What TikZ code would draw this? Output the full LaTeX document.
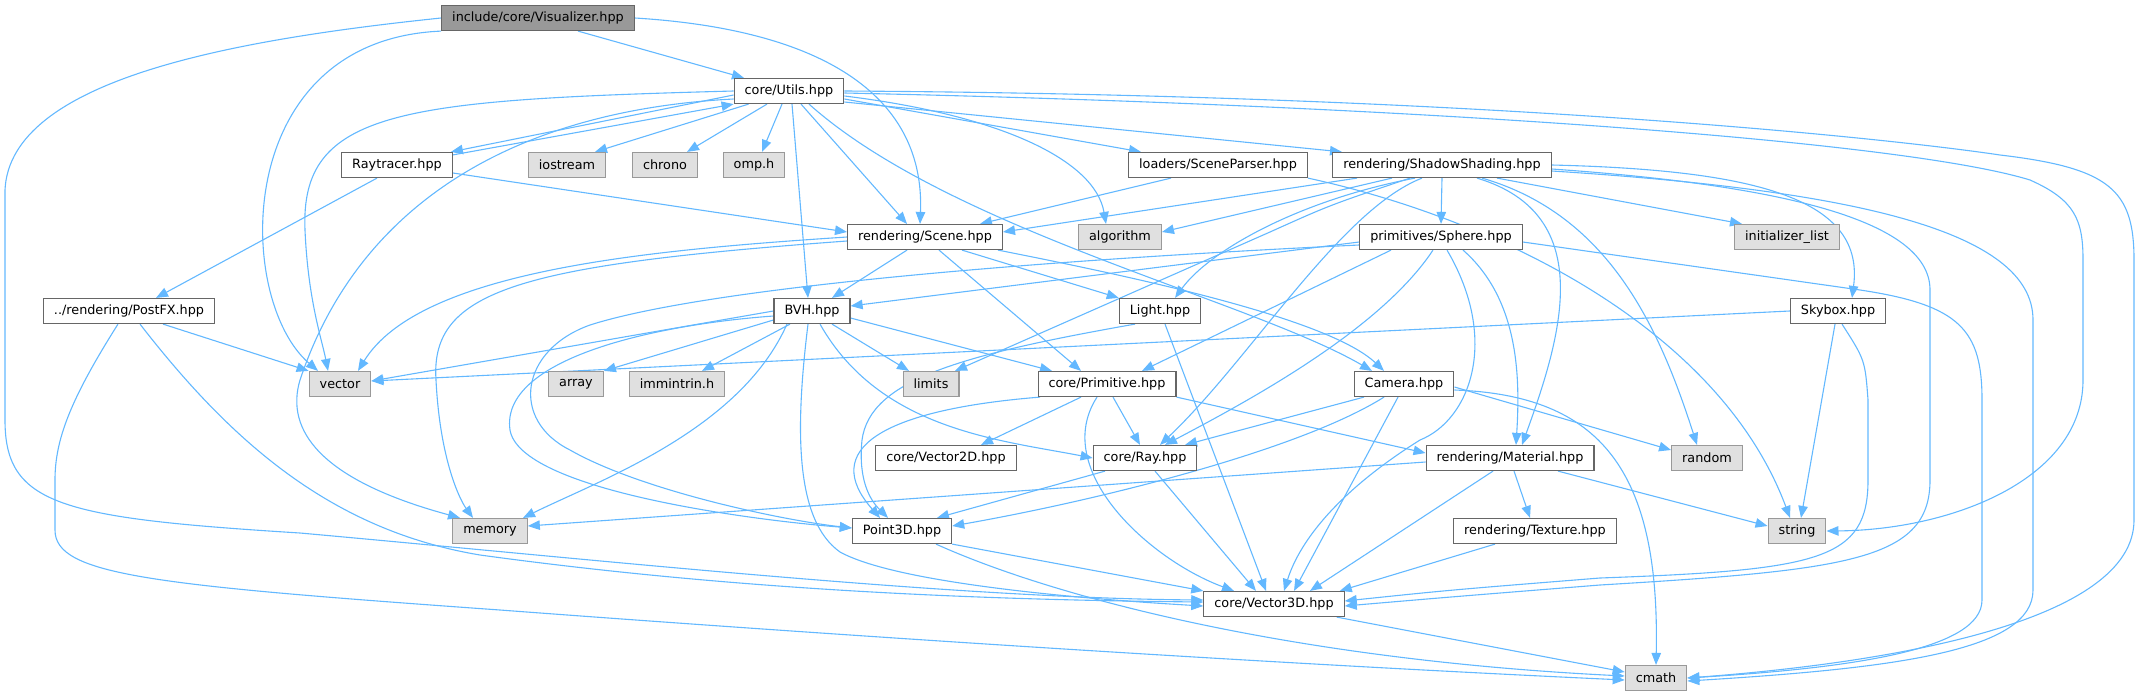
\documentclass[tikz,border=0pt]{standalone}
\usepackage{fontspec}
\setmainfont{DejaVu Sans}
\usepackage{tikz}
\usetikzlibrary{arrows.meta, backgrounds}
\definecolor{edgeblue}{HTML}{63B8FF}
\definecolor{boxline}{HTML}{666666}
\definecolor{sysfill}{HTML}{E0E0E0}
\definecolor{sysline}{HTML}{999999}
\definecolor{topfill}{HTML}{999999}

\begin{document}
\begin{tikzpicture}[x=1pt, y=-1pt,
  hdr/.style={draw=boxline, fill=white, line width=1.2pt, minimum height=25pt, inner xsep=10.5pt, inner ysep=0pt, font=\fontsize{12.8}{15}\selectfont},
  sys/.style={hdr, draw=sysline, fill=sysfill},
  dep/.style={draw=edgeblue, line width=1.1pt, -{Triangle[length=12pt, width=9.5pt]}}]
  \useasboundingbox (0,0) rectangle (2140,696);
  \node (vis) [hdr, fill=topfill] at (538,18) {include/core/Visualizer.hpp};
  \node (utils) [hdr] at (789,91) {core/Utils.hpp};
  \node (rt) [hdr] at (397,165) {Raytracer.hpp};
  \node (iostream) [sys] at (567,165) {iostream};
  \node (chrono) [sys] at (665,165) {chrono};
  \node (omp) [sys] at (754,165) {omp.h};
  \node (parser) [hdr] at (1218,165) {loaders/SceneParser.hpp};
  \node (shadow) [hdr] at (1442,165) {rendering/ShadowShading.hpp};
  \node (scene) [hdr] at (925,237) {rendering/Scene.hpp};
  \node (algorithm) [sys] at (1120,237) {algorithm};
  \node (sphere) [hdr] at (1441,237) {primitives/Sphere.hpp};
  \node (initlist) [sys] at (1787,237) {initializer\_list};
  \node (postfx) [hdr] at (129,311) {../rendering/PostFX.hpp};
  \node (bvh) [hdr] at (812,311) {BVH.hpp};
  \node (light) [hdr] at (1160,311) {Light.hpp};
  \node (skybox) [hdr] at (1838,311) {Skybox.hpp};
  \node (vector) [sys] at (340,384) {vector};
  \node (array) [sys] at (576,384) {array};
  \node (immintrin) [sys] at (677,384) {immintrin.h};
  \node (limits) [sys] at (931,384) {limits};
  \node (prim) [hdr] at (1107,384) {core/Primitive.hpp};
  \node (camera) [hdr] at (1404,384) {Camera.hpp};
  \node (vec2) [hdr] at (946,458) {core/Vector2D.hpp};
  \node (ray) [hdr] at (1145,458) {core/Ray.hpp};
  \node (material) [hdr] at (1510,458) {rendering/Material.hpp};
  \node (random) [sys] at (1707,458) {random};
  \node (memory) [sys] at (490,531) {memory};
  \node (point) [hdr] at (902,531) {Point3D.hpp};
  \node (texture) [hdr] at (1535,531) {rendering/Texture.hpp};
  \node (string) [sys] at (1797,531) {string};
  \node (vec3) [hdr] at (1274,604) {core/Vector3D.hpp};
  \node (cmath) [sys] at (1656,678) {cmath};
  \begin{scope}[on background layer]
    \draw [dep] ([xshift=40]vis.south) -- ([xshift=-45]utils.north);
    \draw [dep] (vis.east) .. controls (830,30) and (925,100) .. ([xshift=-5]scene.north);
    \draw [dep] (vis.south west) .. controls (230,40) and (235,300) .. ([xshift=-22]vector.north);
    \draw [dep] (vis.west) .. controls (230,40) and (10,80) .. (5,190) -- (5,420) .. controls (5,505) and (60,518) .. (300,533) .. controls (600,560) and (950,598) .. ([yshift=4]vec3.west);
    \draw [dep] ([yshift=-4]utils.west) -- ([xshift=-2]rt.north east);
    \draw [dep] ([yshift=-3]rt.north east) -- (utils.south west);
    \draw [dep] ([xshift=15]utils.south west) -- ([xshift=28]iostream.north);
    \draw [dep] ([xshift=-22]utils.south) -- ([xshift=22]chrono.north);
    \draw [dep] ([xshift=-7]utils.south) -- ([xshift=8]omp.north);
    \draw [dep] ([xshift=3]utils.south) -- ([xshift=-4]bvh.north);
    \draw [dep] ([xshift=12]utils.south) -- ([xshift=-18]scene.north);
    \draw [dep] ([xshift=20]utils.south) .. controls (950,230) and (1250,300) .. ([xshift=-32]camera.north);
    \draw [dep] ([yshift=-5]utils.east) .. controls (1000,115) and (1095,160) .. ([xshift=-14]algorithm.north);
    \draw [dep] ([yshift=-8]utils.east) -- ([xshift=-77]parser.north);
    \draw [dep] ([yshift=-11]utils.east) -- ([xshift=-100]shadow.north);
    \draw [dep] ([yshift=-2]utils.east) .. controls (1400,105) and (1900,140) .. (2030,180) .. controls (2075,200) and (2083,220) .. (2083,260) -- (2083,380) .. controls (2083,480) and (1950,530) .. (string.east);
    \draw [dep] (utils.east) .. controls (1500,95) and (1900,140) .. (2000,155) .. controls (2110,168) and (2134,190) .. (2134,260) -- (2134,520) .. controls (2134,620) and (1900,662) .. (cmath.east);
    \draw [dep] (utils.west) .. controls (400,100) and (300,110) .. (305,230) .. controls (308,300) and (322,340) .. ([xshift=-12]vector.north);
    \draw [dep] ([yshift=-8]utils.west) .. controls (520,110) and (360,200) .. (300,380) .. controls (285,430) and (320,480) .. ([xshift=-30]memory.north);
    \draw [dep] ([xshift=-20]rt.south) -- ([xshift=27]postfx.north);
    \draw [dep] ([yshift=-8]rt.east) -- ([yshift=5]scene.west);
    \draw [dep] ([xshift=-47]parser.south) -- ([xshift=55]scene.north);
    \draw [dep] (parser.south east) .. controls (1500,220) and (1720,330) .. ([xshift=-7]string.north);
    \draw [dep] ([xshift=-85]shadow.south) -- ([yshift=5]scene.east);
    \draw [dep] ([xshift=-50]shadow.south) -- ([yshift=5]algorithm.east);
    \draw [dep] (shadow.south) -- (sphere.north);
    \draw [dep] ([xshift=55]shadow.south) -- ([xshift=8]initlist.north west);
    \draw [dep] (shadow.east) .. controls (1760,170) and (1865,200) .. ([xshift=14]skybox.north);
    \draw [dep] ([yshift=-4]shadow.east) .. controls (1780,185) and (1930,220) .. (1930,290) -- (1930,480) .. controls (1930,560) and (1850,570) .. (1600,585) .. controls (1450,597) .. ([yshift=-2]vec3.east);
    \draw [dep] ([yshift=-6]shadow.east) .. controls (1850,190) and (2033,230) .. (2033,320) -- (2033,590) .. controls (2033,650) and (1900,668) .. ([yshift=-3]cmath.east);
    \draw [dep] ([xshift=-27]shadow.south) .. controls (1300,200) and (1210,250) .. ([xshift=15]light.north);
    \draw [dep] ([xshift=-32]shadow.south) .. controls (1330,205) .. (1270,232) -- ([xshift=24]limits.north);
    \draw [dep] ([xshift=-20]shadow.south) .. controls (1340,210) and (1250,360) .. ([xshift=15]ray.north);
    \draw [dep] ([xshift=35]shadow.south) .. controls (1600,215) and (1560,340) .. ([xshift=12]material.north);
    \draw [dep] ([xshift=40]shadow.south) .. controls (1610,215) and (1660,330) .. ([xshift=-10]random.north);
    \draw [dep] ([yshift=-5]sphere.west) -- ([yshift=5]bvh.east);
    \draw [dep] ([yshift=-8]sphere.west) .. controls (1000,262) and (700,290) .. (590,325) .. controls (520,350) and (510,420) .. (570,450) .. controls (640,490) and (780,520) .. ([yshift=3]point.west);
    \draw [dep] ([xshift=-50]sphere.south) -- ([xshift=35]prim.north);
    \draw [dep] ([xshift=-8]sphere.south) .. controls (1380,330) and (1250,400) .. ([xshift=20]ray.north);
    \draw [dep] ([xshift=6]sphere.south) .. controls (1500,340) and (1470,420) .. (1420,440) .. controls (1340,490) and (1300,540) .. ([xshift=10]vec3.north);
    \draw [dep] ([xshift=22]sphere.south) .. controls (1520,300) and (1520,380) .. ([xshift=6]material.north);
    \draw [dep] ([yshift=-5]sphere.east) -- (1860,290) .. controls (1960,305) and (1982,330) .. (1982,400) -- (1982,600) .. controls (1982,650) and (1850,668) .. (cmath.east);
    \draw [dep] ([xshift=-18]scene.south) -- ([xshift=20]bvh.north);
    \draw [dep] ([xshift=14]scene.south) -- ([xshift=-26]prim.north);
    \draw [dep] ([xshift=37]scene.south) -- (light.north west);
    \draw [dep] ([xshift=73]scene.south) .. controls (1150,280) and (1330,320) .. ([xshift=-20]camera.north);
    \draw [dep] (scene.west) .. controls (650,250) and (420,270) .. ([xshift=18]vector.north);
    \draw [dep] ([yshift=-4]scene.west) .. controls (520,265) and (430,290) .. (436,380) .. controls (440,460) and (460,500) .. ([xshift=-17]memory.north);
    \draw [dep] (bvh.west) -- ([yshift=3]vector.east);
    \draw [dep] ([yshift=-9]bvh.west) -- (array.north east);
    \draw [dep] ([xshift=-22]bvh.south) -- ([xshift=25]immintrin.north);
    \draw [dep] ([xshift=20]bvh.south) -- ([xshift=-22]limits.north);
    \draw [dep] ([yshift=-7]bvh.east) -- ([xshift=-55]prim.north);
    \draw [dep] ([xshift=8]bvh.south) .. controls (880,430) and (1000,440) .. (ray.west);
    \draw [dep] ([xshift=-25]bvh.south) .. controls (740,430) and (600,480) .. ([xshift=33]memory.north);
    \draw [dep] ([yshift=-5]bvh.west) .. controls (650,325) and (500,360) .. (510,430) .. controls (520,490) and (750,520) .. ([yshift=3]point.west);
    \draw [dep] ([xshift=-4]bvh.south) .. controls (795,430) and (795,520) .. (840,552) .. controls (900,585) and (1100,600) .. ([yshift=-2]vec3.west);
    \draw [dep] ([xshift=-25]light.south) .. controls (960,355) and (870,380) .. (862,440) .. controls (858,480) and (870,500) .. ([xshift=-14]point.north);
    \draw [dep] ([xshift=5]light.south) -- ([xshift=-8]vec3.north);
    \draw [dep] ([xshift=-26]prim.south) -- ([xshift=35]vec2.north);
    \draw [dep] ([xshift=6]prim.south) -- ([xshift=-5]ray.north);
    \draw [dep] ([xshift=-67]prim.south) .. controls (880,410) and (820,450) .. ([xshift=-22]point.north);
    \draw [dep] ([xshift=-10]prim.south) .. controls (1050,470) and (1150,560) .. ([xshift=-40]vec3.north);
    \draw [dep] (prim.south east) -- ([yshift=5]material.west);
    \draw [dep] ([xshift=-40]camera.south) -- ([xshift=40]ray.north);
    \draw [dep] ([xshift=-20]camera.south) .. controls (1300,450) and (1100,500) .. ([yshift=5]point.east);
    \draw [dep] ([xshift=-6]camera.south) -- ([xshift=20]vec3.north);
    \draw [dep] ([yshift=-3]camera.east) -- ([yshift=8]random.west);
    \draw [dep] ([yshift=-6]camera.east) .. controls (1600,395) and (1660,470) .. (cmath.north);
    \draw [dep] ([xshift=-40]ray.south) -- ([xshift=35]point.north);
    \draw [dep] ([xshift=10]ray.south) -- ([xshift=-18]vec3.north);
    \draw [dep] ([yshift=-4]material.west) -- ([yshift=5]memory.east);
    \draw [dep] ([xshift=4]material.south) -- ([xshift=-5]texture.north);
    \draw [dep] ([xshift=48]material.south) -- ([yshift=5]string.west);
    \draw [dep] ([xshift=-17]material.south) -- ([xshift=36]vec3.north);
    \draw [dep] ([xshift=-40]texture.south) -- ([xshift=-5]vec3.north east);
    \draw [dep] (point.south east) -- (vec3.north west);
    \draw [dep] ([xshift=34]point.south) .. controls (1060,600) and (1300,660) .. ([yshift=2]cmath.west);
    \draw [dep] ([xshift=-8]vec3.south east) -- ([yshift=6]cmath.west);
    \draw [dep] (skybox.west) -- ([yshift=3]vector.east);
    \draw [dep] ([xshift=-3]skybox.south) -- ([xshift=4]string.north);
    \draw [dep] ([xshift=4]skybox.south) .. controls (1865,360) .. (1868,400) -- (1868,480) .. controls (1868,560) and (1820,570) .. (1600,578) .. controls (1450,590) .. ([yshift=3]vec3.east);
    \draw [dep] ([xshift=34]postfx.south) -- (vector.north west);
    \draw [dep] ([xshift=11]postfx.south) .. controls (230,440) and (330,530) .. (480,555) .. controls (750,592) and (1000,600) .. ([yshift=2]vec3.west);
    \draw [dep] ([xshift=-11]postfx.south) .. controls (70,400) and (55,440) .. (55,480) -- (55,530) .. controls (55,575) and (150,585) .. (500,610) .. controls (900,640) and (1300,665) .. ([yshift=-2]cmath.west);
  \end{scope}
\end{tikzpicture}
\end{document}
